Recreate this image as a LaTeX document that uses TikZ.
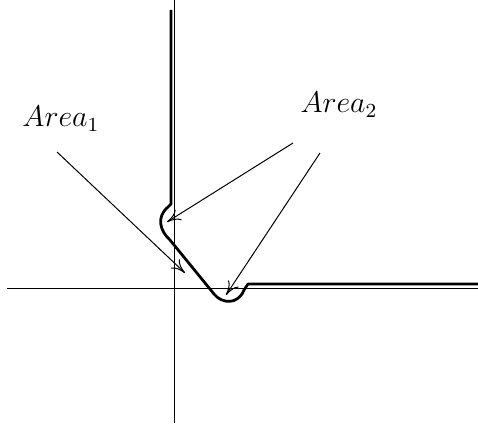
\documentclass[tikz,border=0pt]{standalone}
\usetikzlibrary{arrows.meta}
\begin{document}
\begin{tikzpicture}[
  x=0.4pt, y=-0.4pt,
  axis/.style={line width=0.4pt, draw=black},
  edge/.style={line width=1.1pt, draw=black, line join=round},
  pointer/.style={line width=0.4pt, draw=black, -{To[length=5.5pt,width=5pt]}},
  lbl/.style={anchor=base west, inner sep=0pt, font=\large}
]
\useasboundingbox (0,0) rectangle (478,431);

% ===================== axes =====================
\coordinate (xl) at (7,288);
\coordinate (xr) at (478,288);
\coordinate (yt) at (174,0);
\coordinate (yb) at (174,423);
\draw[axis] (xl) -- (xr);
\draw[axis] (yt) -- (yb);

% ===================== curve =====================
\coordinate (ctop)  at (171,10);
\coordinate (ckink) at (171,204);
\coordinate (cend)  at (478,284);
\draw[edge] (ctop) -- (ckink) -- (168,207)
  .. controls (156,217) and (160,231) .. (170,240)
  -- (214,294)
  .. controls (222,304) and (238,305) .. (244,290)
  -- (248,284) -- (cend);

% ===================== labels =====================
\node[lbl] (area1) at (22,127) {$Area_1$};
\node[lbl] (area2) at (300,113) {$Area_2$};

% arrows
\coordinate (t1) at (57,152);
\coordinate (h1) at (185,273);
\coordinate (t2) at (293,143);
\coordinate (h2) at (167,222);
\coordinate (t3) at (320,153);
\coordinate (h3) at (226,295);
\draw[pointer] (t1) -- (h1);
\draw[pointer] (t2) -- (h2);
\draw[pointer] (t3) -- (h3);

\end{tikzpicture}
\end{document}
